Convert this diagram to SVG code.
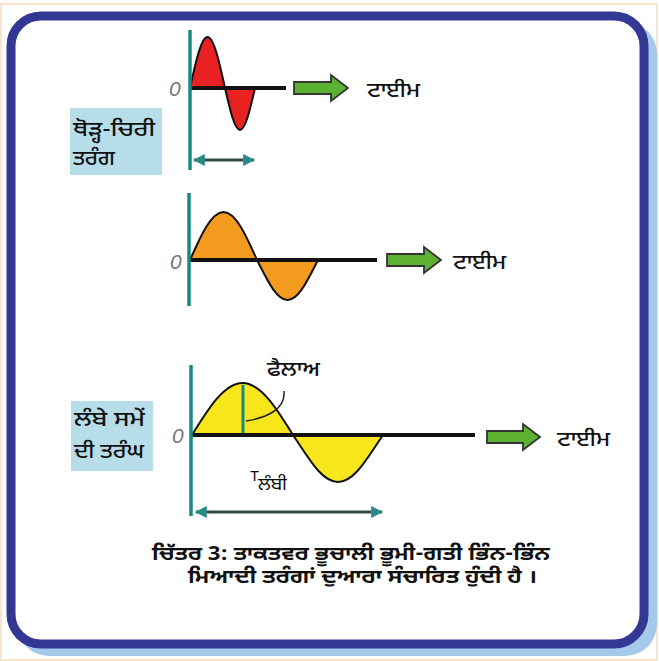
<svg xmlns="http://www.w3.org/2000/svg" width="659" height="661" viewBox="0 0 659 661">
<style>
.t{font-family:"Noto Sans Gurmukhi","Noto Sans","Liberation Sans",sans-serif;fill:#111;}
.lbl{font-size:20px;font-weight:500;}
.cap{font-size:19px;font-weight:bold;}
.zero{font-family:"Liberation Sans",sans-serif;font-style:italic;font-size:21px;fill:#777;}
.axis{stroke:#178a86;stroke-width:3.5;fill:none;}
.base{stroke:#111;stroke-width:4;fill:none;}
.wave{stroke:#111;stroke-width:2;stroke-linejoin:round;}
.garrow{fill:#5cb132;stroke:#333;stroke-width:1.8;stroke-linejoin:miter;}
.box{fill:#b7dde9;}
.dim{stroke:#2e4f4c;stroke-width:3;fill:none;marker-start:url(#ah);marker-end:url(#ah);}
</style>
<defs>
<marker id="ah" viewBox="0 0 10 10" refX="9" refY="5" markerWidth="4" markerHeight="4" orient="auto-start-reverse" markerUnits="strokeWidth">
<path d="M0,0 L10,5 L0,10 Z" fill="#2a8a88"/>
</marker>
</defs>
<rect x="0" y="0" width="659" height="661" fill="#fff"/>
<rect x="1" y="4" width="656" height="656" fill="none" stroke="#fbe4cb" stroke-width="2"/>
<rect id="shadow" x="17" y="22" width="640" height="634" rx="32" fill="#a5c9ea"/>
<rect id="frame" x="11" y="16" width="633" height="628" rx="30" fill="#fff" stroke="#343895" stroke-width="9"/>

<g id="short-wave">
<path class="wave" fill="#e82121" d="M190,88 C195.7,61.9 201.2,37 207.5,37 C213.8,37 219.3,61.9 225,88 C229.9,109.5 234.6,130 240,130 C245.4,130 250.1,109.5 255,88 Z"/>
<line class="base" x1="190" y1="88" x2="286" y2="88"/>
<line class="axis" x1="190" y1="30" x2="190" y2="170"/>
<text class="zero" x="169" y="96">0</text>
<polygon class="garrow" points="294,82 331,82 331,75 348,88 331,101 331,94 294,94"/>
<text class="t lbl" x="367" y="97" textLength="53" lengthAdjust="spacingAndGlyphs">ਟਾਈਮ</text>
<line class="dim" x1="194" y1="160" x2="254" y2="160"/>
</g>
<g id="short-label">
<rect class="box" x="70" y="108" width="92" height="67"/>
<text class="t lbl" x="73" y="136" textLength="82" lengthAdjust="spacingAndGlyphs">ਥੋੜ੍ਹ-ਚਿਰੀ</text>
<text class="t lbl" x="73" y="165" textLength="42" lengthAdjust="spacingAndGlyphs">ਤਰੰਗ</text>
</g>

<g id="medium-wave">
<path class="wave" fill="#f39b1f" d="M190,260 C200.9,235.4 211.4,212 223.5,212 C235.6,212 246.1,235.4 257,260 C267.5,280.5 276.5,300 287.5,300 C298.5,300 307.5,280.5 318,260 Z"/>
<line class="base" x1="190" y1="260" x2="377" y2="260"/>
<line class="axis" x1="189" y1="193" x2="189" y2="306"/>
<text class="zero" x="170" y="269">0</text>
<polygon class="garrow" points="387,254 424,254 424,247 441,260 424,273 424,266 387,266"/>
<text class="t lbl" x="453" y="269" textLength="53" lengthAdjust="spacingAndGlyphs">ਟਾਈਮ</text>
</g>

<g id="long-wave">
<path class="wave" fill="#f6e61b" d="M192,435 C208.5,408.4 224.2,383 242.5,383 C260.8,383 276.5,408.4 293,435 C309.3,459.1 321.7,482 338,482 C354.3,482 366.7,459.1 383,435 Z"/>
<line class="base" x1="190" y1="435" x2="475" y2="435"/>
<line class="axis" x1="191" y1="365" x2="191" y2="516"/>
<line x1="243" y1="385" x2="243" y2="433" stroke="#178a86" stroke-width="3"/>
<path d="M284,391 C286,410 265,418 246,421" fill="none" stroke="#222" stroke-width="1.5"/>
<text class="t lbl" x="267" y="376" textLength="53" lengthAdjust="spacingAndGlyphs">ਫੈਲਾਅ</text>
<text class="zero" x="172" y="443">0</text>
<polygon class="garrow" points="487,431 523,431 523,424 540,437 523,450 523,443 487,443"/>
<text class="t lbl" x="557" y="446" textLength="53" lengthAdjust="spacingAndGlyphs">ਟਾਈਮ</text>
<text x="250" y="481" font-family="Liberation Sans,sans-serif" font-size="15" fill="#111">T</text>
<text class="t" x="258" y="490" font-size="17" textLength="29" lengthAdjust="spacingAndGlyphs">ਲੰਬੀ</text>
<line class="dim" x1="196" y1="512" x2="382" y2="512"/>
</g>
<g id="long-label">
<rect class="box" x="71" y="401" width="82" height="70"/>
<text class="t lbl" x="74" y="426" textLength="71" lengthAdjust="spacingAndGlyphs">ਲੰਬੇ ਸਮੇਂ</text>
<text class="t lbl" x="74" y="458" textLength="70" lengthAdjust="spacingAndGlyphs">ਦੀ ਤਰੰਘ</text>
</g>

<g id="caption">
<text class="t cap" x="152" y="560" textLength="398" lengthAdjust="spacingAndGlyphs">ਚਿੱਤਰ 3: ਤਾਕਤਵਰ ਭੂਚਾਲੀ ਭੂਮੀ-ਗਤੀ ਭਿੰਨ-ਭਿੰਨ</text>
<text class="t cap" x="188" y="583" textLength="349" lengthAdjust="spacingAndGlyphs">ਮਿਆਦੀ ਤਰੰਗਾਂ ਦੁਆਰਾ ਸੰਚਾਰਿਤ ਹੁੰਦੀ ਹੈ ।</text>
</g>
</svg>
